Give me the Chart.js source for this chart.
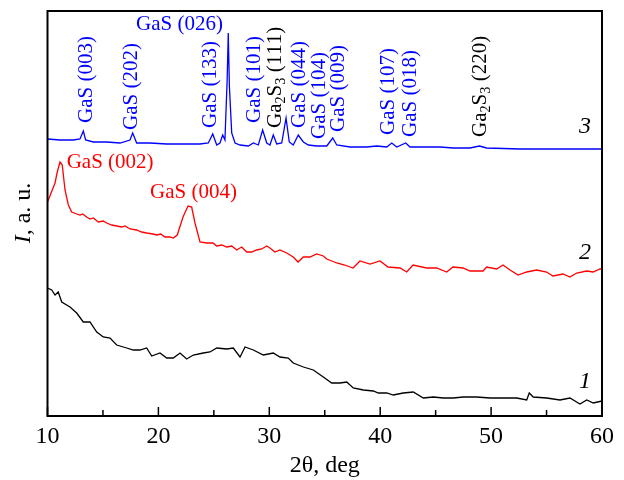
<!DOCTYPE html>
<html>
  <head>
    <title>XRD</title>
    <script src="https://cdn.jsdelivr.net/npm/chart.js"></script>
    <style>
      body { margin: 0; background: #fff; }
    </style>
  </head>
  <body>
    <canvas id="xrd" width="624" height="480"></canvas>

    <script>
      // curve 1 (black)
      var x1 = [10.0, 10.38, 10.68, 10.97, 11.28, 12.03, 12.63, 13.23, 13.83, 14.44, 15.03, 15.64, 16.24, 17.14, 17.74, 18.34, 18.94, 19.4, 20.14, 20.75, 21.34, 21.95, 22.55, 23.15, 24.05, 24.65, 25.26, 26.16, 26.75, 27.36, 27.81, 28.56, 29.46, 30.36, 30.96, 31.71, 32.16, 33.07, 33.97, 34.87, 35.63, 36.38, 36.98, 37.57, 38.48, 39.38, 39.83, 40.59, 41.18, 42.08, 42.98, 43.89, 44.79, 45.69, 46.59, 47.49, 48.7, 49.9, 51.1, 52.31, 53.21, 53.44, 53.8, 55.01, 56.21, 57.11, 58.01, 58.62, 59.22, 60.0];
      var y1 = [128, 126, 121, 124, 114, 109, 103, 94, 94, 84, 79, 78, 71, 68, 66, 66, 68, 60, 63, 58, 58, 63, 57, 61, 63, 64, 68, 67, 68, 59, 69, 66, 61, 63, 59, 58, 53, 49, 46, 39, 33, 33, 34, 28, 26, 25, 23, 23, 21, 23, 24, 18, 19, 18, 18, 19, 19, 18, 18, 18, 16, 23, 19, 18, 16, 18, 12, 16, 13, 15];

      // curve 2 (red)
      var x2 = [10.0, 10.68, 10.88, 11.13, 11.33, 11.58, 11.88, 12.18, 12.63, 12.93, 13.17, 13.53, 13.83, 14.13, 14.58, 15.03, 15.34, 15.79, 16.24, 16.69, 16.99, 17.44, 18.04, 18.49, 18.95, 19.51, 19.85, 20.21, 20.6, 21.05, 21.34, 21.7, 22.22, 22.67, 23.0, 23.3, 23.75, 24.35, 24.92, 25.26, 25.71, 26.16, 26.61, 27.06, 27.51, 27.96, 28.41, 28.86, 29.31, 29.77, 30.06, 30.51, 30.96, 31.57, 32.16, 32.59, 33.07, 33.67, 34.27, 34.87, 35.18, 36.08, 36.8, 37.55, 38.18, 39.08, 39.98, 40.71, 41.79, 42.39, 42.96, 44.19, 45.09, 46.0, 46.56, 47.47, 48.1, 49.27, 49.6, 50.5, 51.07, 51.71, 52.43, 53.21, 54.11, 55.01, 55.58, 56.48, 57.11, 57.72, 58.62, 59.19, 59.82, 60.0];
      var y2 = [214, 233, 244, 254, 251, 226, 211, 204, 202, 201, 202, 199, 197, 198, 194, 195, 193, 191, 190, 189, 190, 187, 186, 184, 183, 182, 181, 182, 179, 179, 178, 181, 199, 210, 209, 193, 174, 173, 173, 170, 171, 169, 170, 166, 169, 164, 164, 166, 167, 170, 168, 164, 166, 163, 159, 154, 159, 159, 162, 160, 157, 153, 151, 148, 155, 152, 155, 149, 148, 144, 151, 148, 148, 144, 149, 148, 145, 145, 149, 147, 151, 146, 141, 144, 146, 144, 140, 142, 139, 143, 145, 144, 147, 147];

      // curve 3 (blue)
      var x3 = [10.0, 11.13, 12.33, 12.93, 13.23, 13.44, 14.13, 15.34, 16.54, 17.44, 17.68, 18.04, 19.24, 20.75, 22.25, 23.75, 24.5, 24.9, 25.26, 25.55, 25.8, 26.0, 26.2, 26.3, 26.4, 26.61, 26.91, 27.36, 28.11, 28.56, 29.01, 29.4, 29.77, 30.06, 30.36, 30.67, 31.12, 31.51, 31.8, 32.16, 32.61, 33.07, 33.52, 34.27, 35.18, 35.72, 36.08, 37.28, 38.78, 39.68, 40.59, 41.04, 41.49, 42.3, 42.69, 43.89, 44.79, 45.39, 46.59, 48.1, 48.94, 49.6, 52.61, 55.61, 60.0];
      var y3 = [277, 276, 276, 277, 285, 276, 274, 274, 273, 276, 283, 273, 273, 272, 272, 272, 273, 282, 271, 273, 281, 276, 336, 383, 330, 283, 273, 271, 270, 273, 271, 286, 273, 271, 281, 272, 273, 298, 274, 271, 281, 274, 271, 270, 270, 278, 271, 269, 269, 270, 269, 273, 269, 273, 269, 269, 269, 269, 268, 268, 270, 268, 267, 267, 267];

      // peak labels
      var peakNames = ["GaS (003)", "GaS (202)", "GaS (133)", "GaS (101)", "Ga2S3 (111)", "GaS (044)", "GaS (104)", "GaS (009)", "GaS (107)", "GaS (018)", "Ga2S3 (220)"];
      var peakLabelX = [13.56, 17.53, 24.74, 28.67, 30.52, 32.68, 34.57, 36.28, 40.79, 42.69, 49.0];
      var peakLabelY = [293, 286, 288, 293, 288, 288, 277, 284, 281, 279, 279];
      var peakColors = ["blue", "blue", "blue", "blue", "black", "blue", "blue", "blue", "blue", "blue", "black"];

      var flatNames = ["GaS (026)", "GaS (002)", "GaS (004)"];
      var flatX = [17.98, 11.73, 19.24];
      var flatY = [392, 254, 224];
      var flatColors = ["blue", "red", "red"];

      var curveNumbers = ["3", "2", "1"];
      var curveNumX = [58.47, 58.47, 58.47];
      var curveNumY = [289, 163, 34];

      var serif = "'Liberation Serif', 'Times New Roman', serif";

      function pares(xs, ys) {
        return xs.map((v, i) => ({ x: v, y: ys[i] }));
      }

      // desenha texto com subscritos (digito logo depois de letra)
      function textoSub(ctx, txt, size) {
        var pos = 0;
        for (var i = 0; i < txt.length; i++) {
          var c = txt[i];
          var sub = /[0-9]/.test(c) && i > 0 && /[A-Za-z]/.test(txt[i - 1]);
          ctx.font = (sub ? size * 0.68 : size) + "px " + serif;
          ctx.fillText(c, pos, sub ? size * 0.28 : 0);
          pos += ctx.measureText(c).width;
        }
      }

      var enfeites = {
        id: "enfeites",
        afterDraw(chart) {
          var ctx = chart.ctx;
          var a = chart.chartArea;
          var x = chart.scales.x;
          var y = chart.scales.y;
          ctx.save();

          // ticks para dentro
          ctx.strokeStyle = "#000";
          ctx.lineWidth = 1.5;
          x.ticks.forEach((t) => {
            var px = x.getPixelForValue(t.value);
            var len = t.value % 10 === 0 ? 9 : 6;
            ctx.beginPath();
            ctx.moveTo(px, a.bottom);
            ctx.lineTo(px, a.bottom - len);
            ctx.stroke();
          });

          // moldura
          ctx.lineWidth = 2;
          ctx.strokeRect(a.left, a.top, a.right - a.left, a.bottom - a.top);

          // rotulos verticais
          ctx.textBaseline = "middle";
          ctx.textAlign = "left";
          peakNames.forEach((nome, i) => {
            ctx.save();
            ctx.translate(x.getPixelForValue(peakLabelX[i]), y.getPixelForValue(peakLabelY[i]));
            ctx.rotate(-Math.PI / 2);
            ctx.fillStyle = peakColors[i];
            textoSub(ctx, nome, 21);
            ctx.restore();
          });

          // rotulos horizontais
          ctx.font = "21px " + serif;
          flatNames.forEach((nome, i) => {
            ctx.fillStyle = flatColors[i];
            ctx.fillText(nome, x.getPixelForValue(flatX[i]), y.getPixelForValue(flatY[i]));
          });

          // numeros das curvas
          ctx.fillStyle = "#000";
          ctx.textAlign = "center";
          ctx.font = "italic 24px " + serif;
          curveNumbers.forEach((n, i) => {
            ctx.fillText(n, x.getPixelForValue(curveNumX[i]), y.getPixelForValue(curveNumY[i]));
          });

          // titulo do eixo y: I, a. u.
          ctx.save();
          ctx.translate(24, 213);
          ctx.rotate(-Math.PI / 2);
          ctx.textAlign = "left";
          ctx.font = "italic 24px " + serif;
          var w1 = ctx.measureText("I").width;
          ctx.font = "24px " + serif;
          var w2 = ctx.measureText(", a. u.").width;
          var inicio = -(w1 + w2) / 2;
          ctx.font = "italic 24px " + serif;
          ctx.fillText("I", inicio, 0);
          ctx.font = "24px " + serif;
          ctx.fillText(", a. u.", inicio + w1, 0);
          ctx.restore();

          ctx.restore();
        },
      };

      var linha = (cor) => ({
        borderColor: cor,
        borderWidth: 1.3,
        pointRadius: 0,
        fill: false,
        tension: 0,
      });

      new Chart(document.getElementById("xrd").getContext("2d"), {
        type: "line",
        data: {
          datasets: [
            Object.assign({ label: "1", data: pares(x1, y1) }, linha("#000")),
            Object.assign({ label: "2", data: pares(x2, y2) }, linha("#ff0000")),
            Object.assign({ label: "3", data: pares(x3, y3) }, linha("#0000ff")),
          ],
        },
        options: {
          responsive: false,
          animation: false,
          layout: { padding: { top: 11, right: 22, left: 0, bottom: 0 } },
          plugins: { legend: { display: false }, tooltip: { enabled: false } },
          scales: {
            x: {
              type: "linear",
              min: 10,
              max: 60,
              grid: { display: false, drawTicks: false },
              border: { display: false },
              ticks: {
                stepSize: 5,
                autoSkip: false,
                maxRotation: 0,
                padding: 6,
                color: "#000",
                font: { family: serif, size: 24 },
                callback: (v) => (v % 10 === 0 ? v : ""),
              },
              title: {
                display: true,
                text: "2θ, deg",
                color: "#000",
                font: { family: serif, size: 24 },
                padding: { top: 0, bottom: 0 },
              },
              afterFit: (s) => { s.height = 64; },
            },
            y: {
              min: 0,
              max: 405,
              grid: { display: false, drawTicks: false },
              border: { display: false },
              ticks: { display: false },
              afterFit: (s) => { s.width = 47.5; },
            },
          },
        },
        plugins: [enfeites],
      });
    </script>
  </body>
</html>
